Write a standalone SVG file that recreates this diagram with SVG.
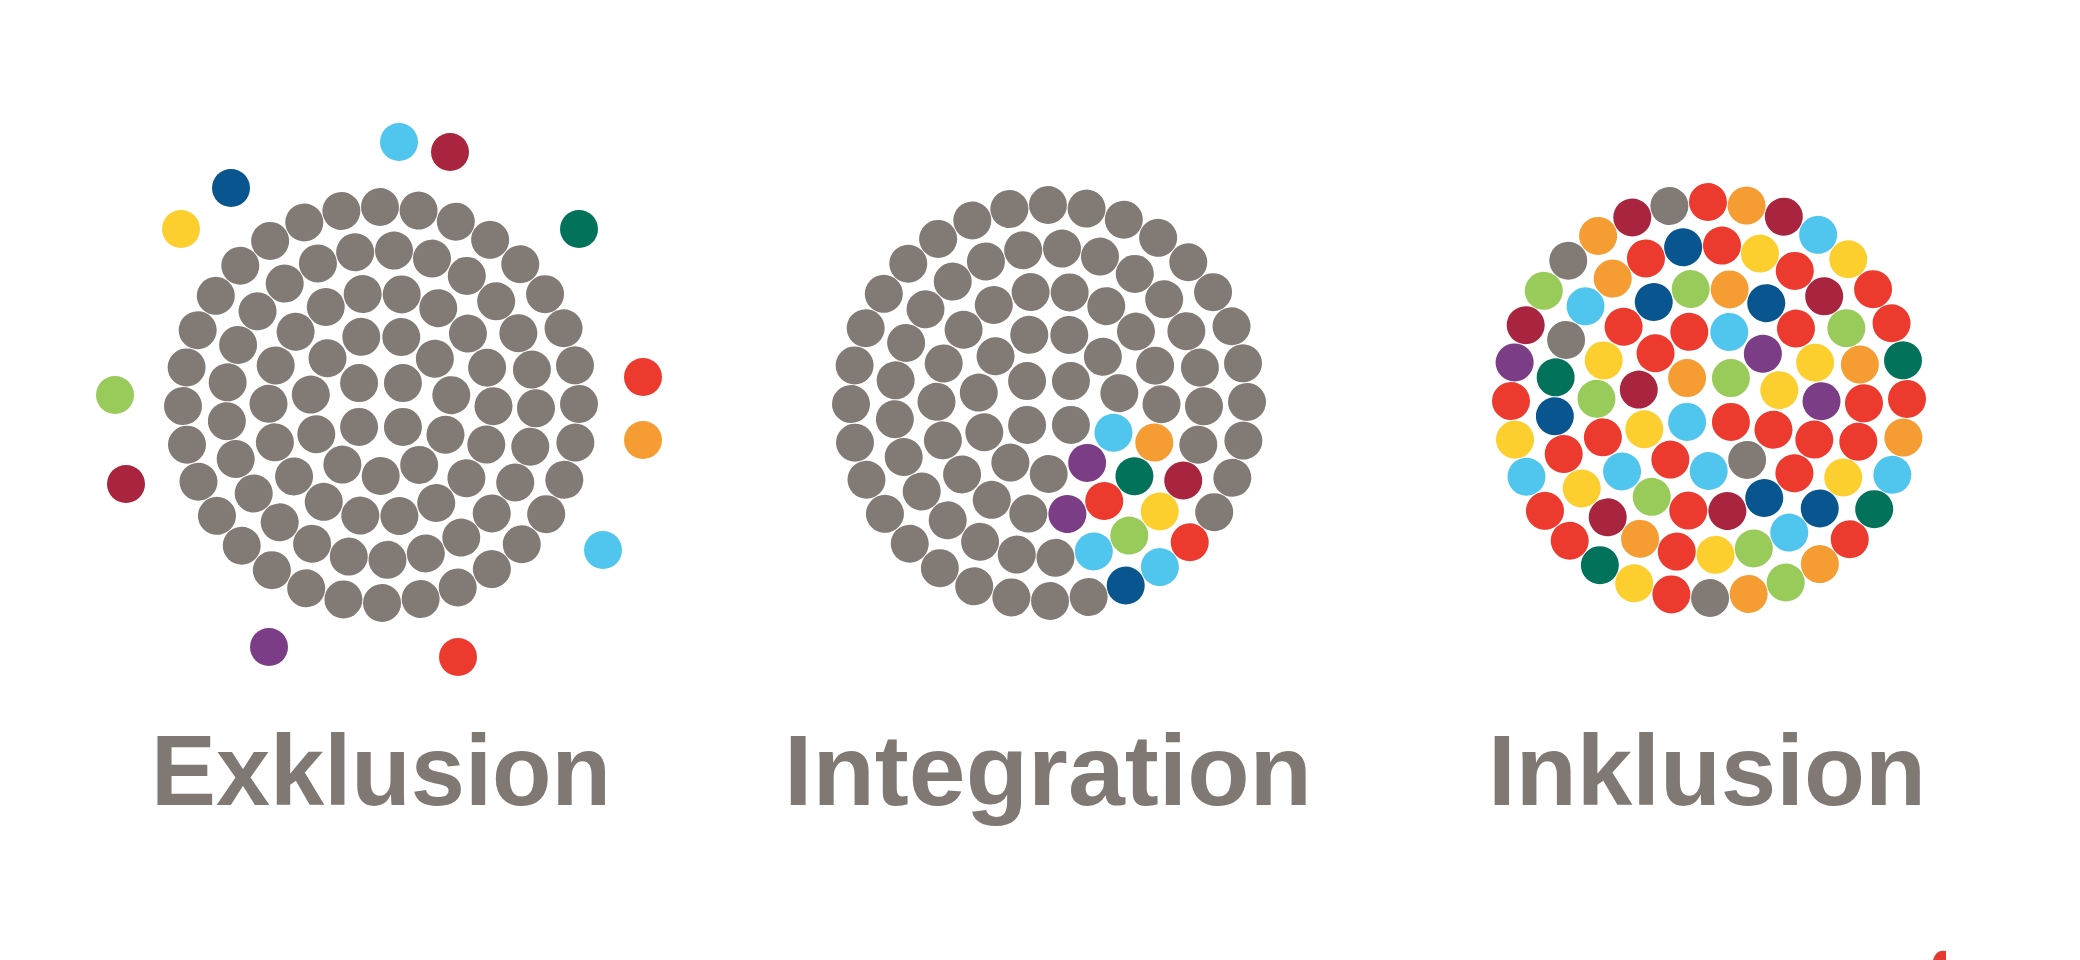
<svg xmlns="http://www.w3.org/2000/svg" xmlns:xlink="http://www.w3.org/1999/xlink" width="2080" height="960" viewBox="0 0 2080 960">
<style>
.gy{fill:#827a75}.rd{fill:#ec3a2e}.cr{fill:#a8243f}.or{fill:#f59c32}.ye{fill:#fccf2f}
.lg{fill:#98cb5a}.dg{fill:#02735a}.lb{fill:#50c6ee}.db{fill:#08558f}.pu{fill:#7b3d85}
.t{font-family:"Liberation Sans",Arial,sans-serif;font-weight:700;font-size:100px;fill:#807873;text-anchor:middle}
</style>
<defs>
<circle id="r1" cx="0" cy="-198" r="19"/>
<circle id="r2" cx="0" cy="-155" r="19"/>
<circle id="r3" cx="0" cy="-112.5" r="19"/>
<circle id="r4" cx="0" cy="-71" r="19"/>
<circle id="r5" cx="0" cy="-31" r="19"/>
<circle id="d" cx="0" cy="0" r="19"/>
</defs>
<rect width="2080" height="960" fill="#ffffff"/>

<g id="exklusion" class="gy" transform="translate(381 405)">
<use href="#r1" transform="rotate(-0.3)"/><use href="#r1" transform="rotate(10.95)"/><use href="#r1" transform="rotate(22.2)"/><use href="#r1" transform="rotate(33.45)"/>
<use href="#r1" transform="rotate(44.7)"/><use href="#r1" transform="rotate(55.95)"/><use href="#r1" transform="rotate(67.2)"/><use href="#r1" transform="rotate(78.45)"/>
<use href="#r1" transform="rotate(89.7)"/><use href="#r1" transform="rotate(100.95)"/><use href="#r1" transform="rotate(112.2)"/><use href="#r1" transform="rotate(123.45)"/>
<use href="#r1" transform="rotate(134.7)"/><use href="#r1" transform="rotate(145.95)"/><use href="#r1" transform="rotate(157.2)"/><use href="#r1" transform="rotate(168.45)"/>
<use href="#r1" transform="rotate(179.7)"/><use href="#r1" transform="rotate(190.95)"/><use href="#r1" transform="rotate(202.2)"/><use href="#r1" transform="rotate(213.45)"/>
<use href="#r1" transform="rotate(224.7)"/><use href="#r1" transform="rotate(235.95)"/><use href="#r1" transform="rotate(247.2)"/><use href="#r1" transform="rotate(258.45)"/>
<use href="#r1" transform="rotate(269.7)"/><use href="#r1" transform="rotate(280.95)"/><use href="#r1" transform="rotate(292.2)"/><use href="#r1" transform="rotate(303.45)"/>
<use href="#r1" transform="rotate(314.7)"/><use href="#r1" transform="rotate(325.95)"/><use href="#r1" transform="rotate(337.2)"/><use href="#r1" transform="rotate(348.45)"/>
<use href="#r2" transform="rotate(4.8)"/><use href="#r2" transform="rotate(19.2)"/><use href="#r2" transform="rotate(33.6)"/><use href="#r2" transform="rotate(48)"/>
<use href="#r2" transform="rotate(62.4)"/><use href="#r2" transform="rotate(76.8)"/><use href="#r2" transform="rotate(91.2)"/><use href="#r2" transform="rotate(105.6)"/>
<use href="#r2" transform="rotate(120)"/><use href="#r2" transform="rotate(134.4)"/><use href="#r2" transform="rotate(148.8)"/><use href="#r2" transform="rotate(163.2)"/>
<use href="#r2" transform="rotate(177.6)"/><use href="#r2" transform="rotate(192)"/><use href="#r2" transform="rotate(206.4)"/><use href="#r2" transform="rotate(220.8)"/>
<use href="#r2" transform="rotate(235.2)"/><use href="#r2" transform="rotate(249.6)"/><use href="#r2" transform="rotate(264)"/><use href="#r2" transform="rotate(278.4)"/>
<use href="#r2" transform="rotate(292.8)"/><use href="#r2" transform="rotate(307.2)"/><use href="#r2" transform="rotate(321.6)"/><use href="#r2" transform="rotate(336)"/>
<use href="#r2" transform="rotate(350.4)"/>
<use href="#r3" transform="rotate(10.6)"/><use href="#r3" transform="rotate(30.6)"/><use href="#r3" transform="rotate(50.6)"/><use href="#r3" transform="rotate(70.6)"/>
<use href="#r3" transform="rotate(90.6)"/><use href="#r3" transform="rotate(110.6)"/><use href="#r3" transform="rotate(130.6)"/><use href="#r3" transform="rotate(150.6)"/>
<use href="#r3" transform="rotate(170.6)"/><use href="#r3" transform="rotate(190.6)"/><use href="#r3" transform="rotate(210.6)"/><use href="#r3" transform="rotate(230.6)"/>
<use href="#r3" transform="rotate(250.6)"/><use href="#r3" transform="rotate(270.6)"/><use href="#r3" transform="rotate(290.6)"/><use href="#r3" transform="rotate(310.6)"/>
<use href="#r3" transform="rotate(330.6)"/><use href="#r3" transform="rotate(350.6)"/>
<use href="#r4" transform="rotate(16.6)"/><use href="#r4" transform="rotate(49.33)"/><use href="#r4" transform="rotate(82.05)"/><use href="#r4" transform="rotate(114.78)"/>
<use href="#r4" transform="rotate(147.51)"/><use href="#r4" transform="rotate(180.24)"/><use href="#r4" transform="rotate(212.96)"/><use href="#r4" transform="rotate(245.69)"/>
<use href="#r4" transform="rotate(278.42)"/><use href="#r4" transform="rotate(311.15)"/><use href="#r4" transform="rotate(343.87)"/>
<use href="#r5" transform="rotate(45)"/><use href="#r5" transform="rotate(135)"/><use href="#r5" transform="rotate(225)"/><use href="#r5" transform="rotate(315)"/>
</g>
<g id="exklusion-outside">
<use href="#d" class="lb" x="399" y="142"/><use href="#d" class="cr" x="450" y="152"/>
<use href="#d" class="db" x="231" y="188"/><use href="#d" class="ye" x="181" y="229"/>
<use href="#d" class="dg" x="579" y="229"/><use href="#d" class="rd" x="643" y="377"/>
<use href="#d" class="or" x="643" y="440"/><use href="#d" class="lg" x="115" y="395"/>
<use href="#d" class="cr" x="126" y="484"/><use href="#d" class="lb" x="603" y="550"/>
<use href="#d" class="pu" x="269" y="647"/><use href="#d" class="rd" x="458" y="657"/>
</g>

<g id="integration" class="gy" transform="translate(1049 403)">
<use href="#r1" transform="rotate(-0.3)"/><use href="#r1" transform="rotate(10.95)"/><use href="#r1" transform="rotate(22.2)"/><use href="#r1" transform="rotate(33.45)"/>
<use href="#r1" transform="rotate(44.7)"/><use href="#r1" transform="rotate(55.95)"/><use href="#r1" transform="rotate(67.2)"/><use href="#r1" transform="rotate(78.45)"/>
<use href="#r1" transform="rotate(89.7)"/><use href="#r1" transform="rotate(100.95)"/><use href="#r1" transform="rotate(112.2)"/><use href="#r1" transform="rotate(123.45)"/>
<use href="#r1" class="rd" transform="rotate(134.7)"/><use href="#r1" class="lb" transform="rotate(145.95)"/><use href="#r1" class="db" transform="rotate(157.2)"/><use href="#r1" transform="rotate(168.45)"/>
<use href="#r1" transform="rotate(179.7)"/><use href="#r1" transform="rotate(190.95)"/><use href="#r1" transform="rotate(202.2)"/><use href="#r1" transform="rotate(213.45)"/>
<use href="#r1" transform="rotate(224.7)"/><use href="#r1" transform="rotate(235.95)"/><use href="#r1" transform="rotate(247.2)"/><use href="#r1" transform="rotate(258.45)"/>
<use href="#r1" transform="rotate(269.7)"/><use href="#r1" transform="rotate(280.95)"/><use href="#r1" transform="rotate(292.2)"/><use href="#r1" transform="rotate(303.45)"/>
<use href="#r1" transform="rotate(314.7)"/><use href="#r1" transform="rotate(325.95)"/><use href="#r1" transform="rotate(337.2)"/><use href="#r1" transform="rotate(348.45)"/>
<use href="#r2" transform="rotate(4.8)"/><use href="#r2" transform="rotate(19.2)"/><use href="#r2" transform="rotate(33.6)"/><use href="#r2" transform="rotate(48)"/>
<use href="#r2" transform="rotate(62.4)"/><use href="#r2" transform="rotate(76.8)"/><use href="#r2" transform="rotate(91.2)"/><use href="#r2" transform="rotate(105.6)"/>
<use href="#r2" class="cr" transform="rotate(120)"/><use href="#r2" class="ye" transform="rotate(134.4)"/><use href="#r2" class="lg" transform="rotate(148.8)"/><use href="#r2" class="lb" transform="rotate(163.2)"/>
<use href="#r2" transform="rotate(177.6)"/><use href="#r2" transform="rotate(192)"/><use href="#r2" transform="rotate(206.4)"/><use href="#r2" transform="rotate(220.8)"/>
<use href="#r2" transform="rotate(235.2)"/><use href="#r2" transform="rotate(249.6)"/><use href="#r2" transform="rotate(264)"/><use href="#r2" transform="rotate(278.4)"/>
<use href="#r2" transform="rotate(292.8)"/><use href="#r2" transform="rotate(307.2)"/><use href="#r2" transform="rotate(321.6)"/><use href="#r2" transform="rotate(336)"/>
<use href="#r2" transform="rotate(350.4)"/>
<use href="#r3" transform="rotate(10.6)"/><use href="#r3" transform="rotate(30.6)"/><use href="#r3" transform="rotate(50.6)"/><use href="#r3" transform="rotate(70.6)"/>
<use href="#r3" transform="rotate(90.6)"/><use href="#r3" class="or" transform="rotate(110.6)"/><use href="#r3" class="dg" transform="rotate(130.6)"/><use href="#r3" class="rd" transform="rotate(150.6)"/>
<use href="#r3" class="pu" transform="rotate(170.6)"/><use href="#r3" transform="rotate(190.6)"/><use href="#r3" transform="rotate(210.6)"/><use href="#r3" transform="rotate(230.6)"/>
<use href="#r3" transform="rotate(250.6)"/><use href="#r3" transform="rotate(270.6)"/><use href="#r3" transform="rotate(290.6)"/><use href="#r3" transform="rotate(310.6)"/>
<use href="#r3" transform="rotate(330.6)"/><use href="#r3" transform="rotate(350.6)"/>
<use href="#r4" transform="rotate(16.6)"/><use href="#r4" transform="rotate(49.33)"/><use href="#r4" transform="rotate(82.05)"/><use href="#r4" class="lb" transform="rotate(114.78)"/>
<use href="#r4" class="pu" transform="rotate(147.51)"/><use href="#r4" transform="rotate(180.24)"/><use href="#r4" transform="rotate(212.96)"/><use href="#r4" transform="rotate(245.69)"/>
<use href="#r4" transform="rotate(278.42)"/><use href="#r4" transform="rotate(311.15)"/><use href="#r4" transform="rotate(343.87)"/>
<use href="#r5" transform="rotate(45)"/><use href="#r5" transform="rotate(135)"/><use href="#r5" transform="rotate(225)"/><use href="#r5" transform="rotate(315)"/>
</g>

<g id="inklusion" transform="translate(1709 400)">
<use href="#r1" class="rd" transform="rotate(-0.3)"/><use href="#r1" class="or" transform="rotate(10.95)"/><use href="#r1" class="cr" transform="rotate(22.2)"/><use href="#r1" class="lb" transform="rotate(33.45)"/>
<use href="#r1" class="ye" transform="rotate(44.7)"/><use href="#r1" class="rd" transform="rotate(55.95)"/><use href="#r1" class="rd" transform="rotate(67.2)"/><use href="#r1" class="dg" transform="rotate(78.45)"/>
<use href="#r1" class="rd" transform="rotate(89.7)"/><use href="#r1" class="or" transform="rotate(100.95)"/><use href="#r1" class="lb" transform="rotate(112.2)"/><use href="#r1" class="dg" transform="rotate(123.45)"/>
<use href="#r1" class="rd" transform="rotate(134.7)"/><use href="#r1" class="or" transform="rotate(145.95)"/><use href="#r1" class="lg" transform="rotate(157.2)"/><use href="#r1" class="or" transform="rotate(168.45)"/>
<use href="#r1" class="gy" transform="rotate(179.7)"/><use href="#r1" class="rd" transform="rotate(190.95)"/><use href="#r1" class="ye" transform="rotate(202.2)"/><use href="#r1" class="dg" transform="rotate(213.45)"/>
<use href="#r1" class="rd" transform="rotate(224.7)"/><use href="#r1" class="rd" transform="rotate(235.95)"/><use href="#r1" class="lb" transform="rotate(247.2)"/><use href="#r1" class="ye" transform="rotate(258.45)"/>
<use href="#r1" class="rd" transform="rotate(269.7)"/><use href="#r1" class="pu" transform="rotate(280.95)"/><use href="#r1" class="cr" transform="rotate(292.2)"/><use href="#r1" class="lg" transform="rotate(303.45)"/>
<use href="#r1" class="gy" transform="rotate(314.7)"/><use href="#r1" class="or" transform="rotate(325.95)"/><use href="#r1" class="cr" transform="rotate(337.2)"/><use href="#r1" class="gy" transform="rotate(348.45)"/>
<use href="#r2" class="rd" transform="rotate(4.8)"/><use href="#r2" class="ye" transform="rotate(19.2)"/><use href="#r2" class="rd" transform="rotate(33.6)"/><use href="#r2" class="cr" transform="rotate(48)"/>
<use href="#r2" class="lg" transform="rotate(62.4)"/><use href="#r2" class="or" transform="rotate(76.8)"/><use href="#r2" class="rd" transform="rotate(91.2)"/><use href="#r2" class="rd" transform="rotate(105.6)"/>
<use href="#r2" class="ye" transform="rotate(120)"/><use href="#r2" class="db" transform="rotate(134.4)"/><use href="#r2" class="lb" transform="rotate(148.8)"/><use href="#r2" class="lg" transform="rotate(163.2)"/>
<use href="#r2" class="ye" transform="rotate(177.6)"/><use href="#r2" class="rd" transform="rotate(192)"/><use href="#r2" class="or" transform="rotate(206.4)"/><use href="#r2" class="cr" transform="rotate(220.8)"/>
<use href="#r2" class="ye" transform="rotate(235.2)"/><use href="#r2" class="rd" transform="rotate(249.6)"/><use href="#r2" class="db" transform="rotate(264)"/><use href="#r2" class="dg" transform="rotate(278.4)"/>
<use href="#r2" class="gy" transform="rotate(292.8)"/><use href="#r2" class="lb" transform="rotate(307.2)"/><use href="#r2" class="or" transform="rotate(321.6)"/><use href="#r2" class="rd" transform="rotate(336)"/>
<use href="#r2" class="db" transform="rotate(350.4)"/>
<use href="#r3" class="or" transform="rotate(10.6)"/><use href="#r3" class="db" transform="rotate(30.6)"/><use href="#r3" class="rd" transform="rotate(50.6)"/><use href="#r3" class="ye" transform="rotate(70.6)"/>
<use href="#r3" class="pu" transform="rotate(90.6)"/><use href="#r3" class="rd" transform="rotate(110.6)"/><use href="#r3" class="rd" transform="rotate(130.6)"/><use href="#r3" class="db" transform="rotate(150.6)"/>
<use href="#r3" class="cr" transform="rotate(170.6)"/><use href="#r3" class="rd" transform="rotate(190.6)"/><use href="#r3" class="lg" transform="rotate(210.6)"/><use href="#r3" class="lb" transform="rotate(230.6)"/>
<use href="#r3" class="rd" transform="rotate(250.6)"/><use href="#r3" class="lg" transform="rotate(270.6)"/><use href="#r3" class="ye" transform="rotate(290.6)"/><use href="#r3" class="rd" transform="rotate(310.6)"/>
<use href="#r3" class="db" transform="rotate(330.6)"/><use href="#r3" class="lg" transform="rotate(350.6)"/>
<use href="#r4" class="lb" transform="rotate(16.6)"/><use href="#r4" class="pu" transform="rotate(49.33)"/><use href="#r4" class="ye" transform="rotate(82.05)"/><use href="#r4" class="rd" transform="rotate(114.78)"/>
<use href="#r4" class="gy" transform="rotate(147.51)"/><use href="#r4" class="lb" transform="rotate(180.24)"/><use href="#r4" class="rd" transform="rotate(212.96)"/><use href="#r4" class="ye" transform="rotate(245.69)"/>
<use href="#r4" class="cr" transform="rotate(278.42)"/><use href="#r4" class="rd" transform="rotate(311.15)"/><use href="#r4" class="rd" transform="rotate(343.87)"/>
<use href="#r5" class="lg" transform="rotate(45)"/><use href="#r5" class="rd" transform="rotate(135)"/><use href="#r5" class="lb" transform="rotate(225)"/><use href="#r5" class="or" transform="rotate(315)"/>
</g>

<g id="labels">
<text class="t" x="381" y="805" textLength="460" lengthAdjust="spacingAndGlyphs">Exklusion</text>
<text class="t" x="1048" y="805" textLength="528" lengthAdjust="spacingAndGlyphs">Integration</text>
<text class="t" x="1707" y="805" textLength="438" lengthAdjust="spacingAndGlyphs">Inklusion</text>
</g>
<path d="M1933 960 Q1936 949 1946 951 L1946 960 Z" fill="#e8392f"/>
</svg>
